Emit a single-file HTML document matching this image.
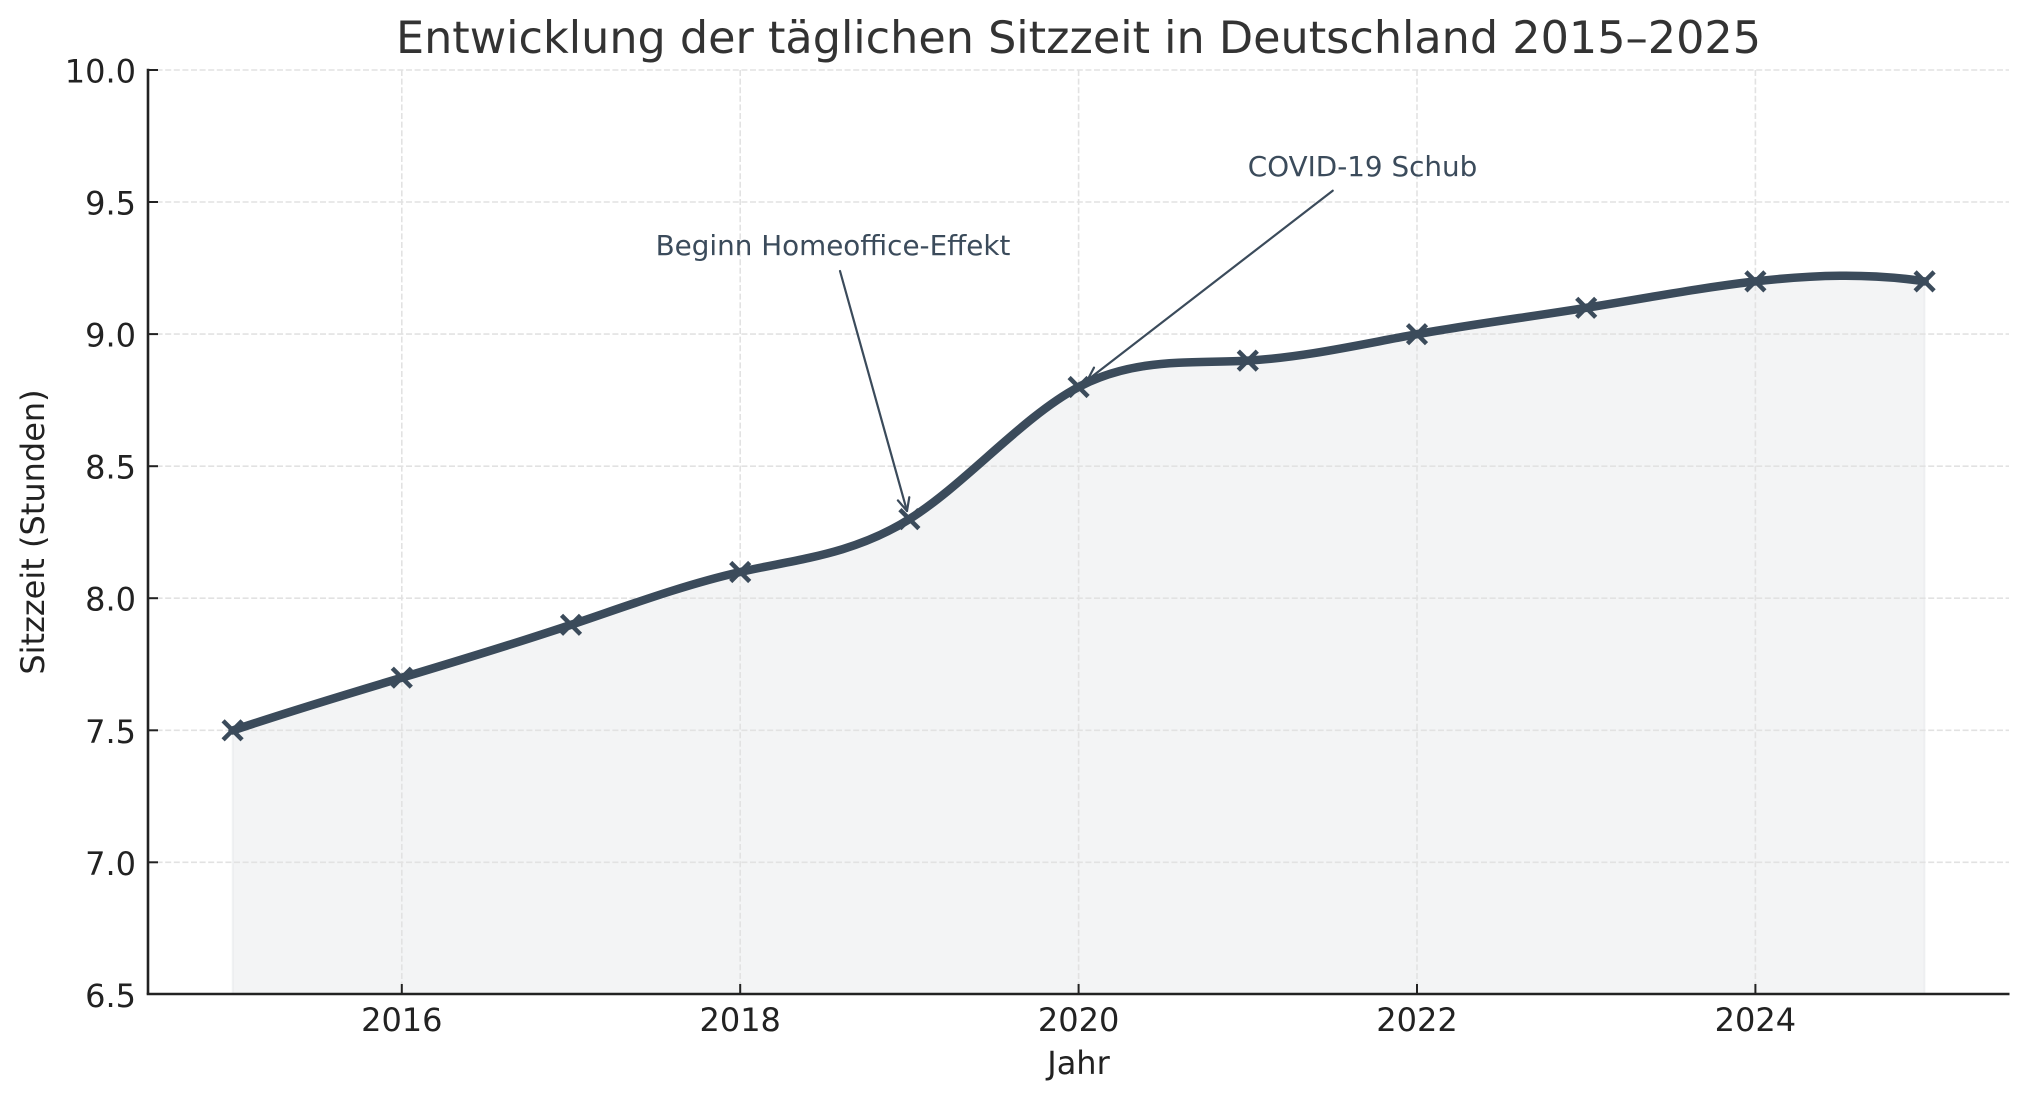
<!DOCTYPE html>
<html>
<head>
<meta charset="utf-8">
<style>
  html, body { margin: 0; padding: 0; background: #ffffff; }
  svg { display: block; }
  text { font-family: "DejaVu Sans", "Liberation Sans", sans-serif; }
</style>
</head>
<body>
<svg width="2028" height="1101" viewBox="0 0 2028 1101" xmlns="http://www.w3.org/2000/svg">
  <rect x="0" y="0" width="2028" height="1101" fill="#ffffff"/>

  <!-- Title -->
  <text x="1078.5" y="53" font-size="44.5" fill="#333333" text-anchor="middle">Entwicklung der täglichen Sitzzeit in Deutschland 2015–2025</text>

  <!-- Fill under the curve -->
  <g transform="translate(0,1)">
    <path d="M 232.6 729.5
             C 289.0 710.5, 345.4 693.6, 401.8 676.7
             C 458.2 659.8, 514.6 642.8, 571.0 623.8
             C 627.4 604.8, 683.8 583.8, 740.2 571.0
             C 796.6 558.2, 853.0 553.7, 909.4 518.1
             C 965.8 482.6, 1022.2 416.0, 1078.6 386.0
             C 1135.0 356.1, 1191.4 362.8, 1247.8 359.6
             C 1304.2 356.4, 1360.6 343.4, 1417.0 333.2
             C 1473.4 323.1, 1529.8 315.9, 1586.2 306.8
             C 1642.6 297.8, 1699.0 286.9, 1755.4 280.4
             C 1811.8 273.9, 1868.2 271.8, 1924.6 280.4
             L 1924.6 993 L 232.6 993 Z"
          fill="#3b4b5b" fill-opacity="0.06" stroke="#3b4b5b" stroke-opacity="0.05" stroke-width="2"/>
  </g>

  <!-- Grid -->
  <g stroke="#e2e2e2" stroke-width="1.6" stroke-dasharray="6 2.6" fill="none">
    <line x1="148" y1="70" x2="2009" y2="70"/>
    <line x1="148" y1="202" x2="2009" y2="202"/>
    <line x1="148" y1="334.1" x2="2009" y2="334.1"/>
    <line x1="148" y1="466.2" x2="2009" y2="466.2"/>
    <line x1="148" y1="598.2" x2="2009" y2="598.2"/>
    <line x1="148" y1="730.3" x2="2009" y2="730.3"/>
    <line x1="148" y1="862.3" x2="2009" y2="862.3"/>
    <line x1="401.8" y1="70" x2="401.8" y2="994"/>
    <line x1="740.2" y1="70" x2="740.2" y2="994"/>
    <line x1="1078.6" y1="70" x2="1078.6" y2="994"/>
    <line x1="1417" y1="70" x2="1417" y2="994"/>
    <line x1="1755.4" y1="70" x2="1755.4" y2="994"/>
  </g>

  <!-- Main line -->
  <g transform="translate(0,1)">
    <path d="M 232.6 729.5
             C 289.0 710.5, 345.4 693.6, 401.8 676.7
             C 458.2 659.8, 514.6 642.8, 571.0 623.8
             C 627.4 604.8, 683.8 583.8, 740.2 571.0
             C 796.6 558.2, 853.0 553.7, 909.4 518.1
             C 965.8 482.6, 1022.2 416.0, 1078.6 386.0
             C 1135.0 356.1, 1191.4 362.8, 1247.8 359.6
             C 1304.2 356.4, 1360.6 343.4, 1417.0 333.2
             C 1473.4 323.1, 1529.8 315.9, 1586.2 306.8
             C 1642.6 297.8, 1699.0 286.9, 1755.4 280.4
             C 1811.8 273.9, 1868.2 271.8, 1924.6 280.4"
          fill="none" stroke="#3b4b5b" stroke-width="8.5" stroke-linejoin="round" stroke-linecap="round"/>
  </g>

  <!-- Markers (x) -->
  <g stroke="#3b4b5b" stroke-width="4.5" stroke-linecap="butt" fill="none">
    <path d="M223.1 720.8 L242.1 739.8 M223.1 739.8 L242.1 720.8"/>
    <path d="M392.3 668.2 L411.3 687.2 M392.3 687.2 L411.3 668.2"/>
    <path d="M561.5 615.3 L580.5 634.3 M561.5 634.3 L580.5 615.3"/>
    <path d="M730.7 562.5 L749.7 581.5 M730.7 581.5 L749.7 562.5"/>
    <path d="M899.9 509.6 L918.9 528.6 M899.9 528.6 L918.9 509.6"/>
    <path d="M1069.1 377.5 L1088.1 396.5 M1069.1 396.5 L1088.1 377.5"/>
    <path d="M1238.3 351.1 L1257.3 370.1 M1238.3 370.1 L1257.3 351.1"/>
    <path d="M1407.5 324.7 L1426.5 343.7 M1407.5 343.7 L1426.5 324.7"/>
    <path d="M1576.7 298.3 L1595.7 317.3 M1576.7 317.3 L1595.7 298.3"/>
    <path d="M1745.9 271.9 L1764.9 290.9 M1745.9 290.9 L1764.9 271.9"/>
    <path d="M1915.1 271.9 L1934.1 290.9 M1915.1 290.9 L1934.1 271.9"/>
  </g>

  <!-- Annotations -->
  <text x="655.6" y="255" font-size="27.8" fill="#3b4b5b">Beginn Homeoffice-Effekt</text>
  <g stroke="#3b4b5b" stroke-width="2.2" fill="none" stroke-linecap="round" stroke-linejoin="round">
    <line x1="840" y1="271" x2="907" y2="511"/>
    <path d="M897.9 500.4 L907 511 L909.3 497.2"/>
  </g>

  <text x="1247.8" y="176" font-size="27.8" fill="#3b4b5b">COVID-19 Schub</text>
  <g stroke="#3b4b5b" stroke-width="2.2" fill="none" stroke-linecap="round" stroke-linejoin="round">
    <line x1="1332.7" y1="190.7" x2="1087.5" y2="380"/>
    <path d="M1101.2 377 L1087.5 380 L1094 367.6"/>
  </g>

  <!-- Spines -->
  <g stroke="#222222" stroke-width="2.6" fill="none">
    <line x1="148" y1="68.7" x2="148" y2="994.3"/>
    <line x1="146.7" y1="994" x2="2009.5" y2="994"/>
  </g>

  <!-- Ticks (inward) -->
  <g stroke="#222222" stroke-width="2" fill="none">
    <line x1="148" y1="70" x2="158" y2="70"/>
    <line x1="148" y1="202" x2="158" y2="202"/>
    <line x1="148" y1="334.1" x2="158" y2="334.1"/>
    <line x1="148" y1="466.2" x2="158" y2="466.2"/>
    <line x1="148" y1="598.2" x2="158" y2="598.2"/>
    <line x1="148" y1="730.3" x2="158" y2="730.3"/>
    <line x1="148" y1="862.3" x2="158" y2="862.3"/>
    <line x1="401.8" y1="994" x2="401.8" y2="984"/>
    <line x1="740.2" y1="994" x2="740.2" y2="984"/>
    <line x1="1078.6" y1="994" x2="1078.6" y2="984"/>
    <line x1="1417" y1="994" x2="1417" y2="984"/>
    <line x1="1755.4" y1="994" x2="1755.4" y2="984"/>
  </g>

  <!-- Y tick labels -->
  <g font-size="32" fill="#222222" text-anchor="end">
    <text x="136" y="82.5">10.0</text>
    <text x="136" y="214.5">9.5</text>
    <text x="136" y="346.6">9.0</text>
    <text x="136" y="478.7">8.5</text>
    <text x="136" y="610.7">8.0</text>
    <text x="136" y="742.8">7.5</text>
    <text x="136" y="874.8">7.0</text>
    <text x="136" y="1006.8">6.5</text>
  </g>

  <!-- X tick labels -->
  <g font-size="32" fill="#222222" text-anchor="middle">
    <text x="401.8" y="1031">2016</text>
    <text x="740.2" y="1031">2018</text>
    <text x="1078.6" y="1031">2020</text>
    <text x="1417" y="1031">2022</text>
    <text x="1755.4" y="1031">2024</text>
  </g>

  <!-- Axis labels -->
  <text x="1078.5" y="1074" font-size="32" fill="#222222" text-anchor="middle">Jahr</text>
  <text x="0" y="0" font-size="32" fill="#222222" text-anchor="middle" transform="translate(44,532) rotate(-90)">Sitzzeit (Stunden)</text>
</svg>
</body>
</html>
